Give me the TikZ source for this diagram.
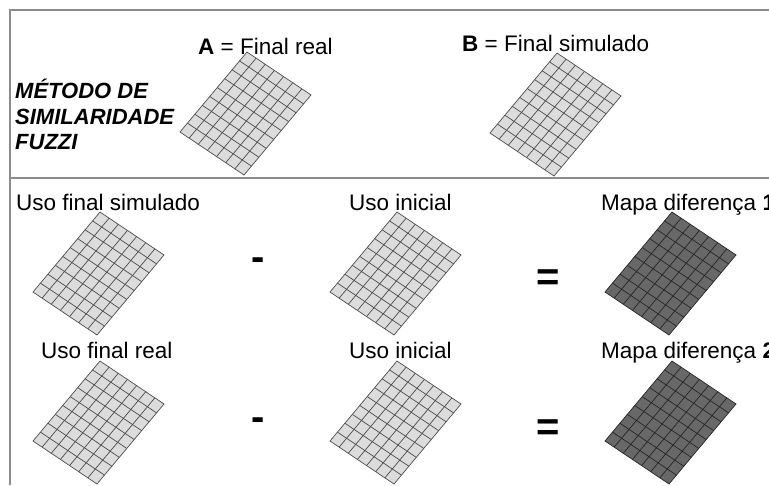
\documentclass[tikz,border=0pt]{standalone}
\usepackage{fontspec}
\setmainfont{Liberation Sans}
\usetikzlibrary{positioning}

\definecolor{cinzaclaro}{HTML}{DCDCDC}
\definecolor{cinzaescuro}{HTML}{686868}
\definecolor{borda}{HTML}{8C8C8C}

\tikzstyle{rotulo} = [anchor=base west, inner sep=0pt, font=\fontsize{22.5}{26}\selectfont]
\tikzstyle{titulo} = [anchor=north west, inner sep=0pt, align=left, font=\fontsize{22}{25.5}\selectfont\bfseries\itshape]
\tikzstyle{sinal} = [anchor=base, inner sep=0pt, font=\fontsize{40}{40}\selectfont\bfseries]
\tikzstyle{divisa} = [draw=borda, line width=1.2pt]

% mapa em grade 7x9, canto de cima em (#1,#2)
\newcommand{\grade}[4]{%
  \begin{scope}[shift={(#1,#2)}, line width=0.7pt]
    \filldraw[fill=#3, draw=#4] (0,0) -- (64,43) -- (-3,123) -- (-67,80) -- cycle;
    \foreach \i in {1,...,6} \draw[#4] (64*\i/7,43*\i/7) -- ++(-67,80);
    \foreach \j in {1,...,8} \draw[#4] (-67*\j/9,80*\j/9) -- ++(64,43);
  \end{scope}}

\begin{document}
\begin{tikzpicture}[x=1pt, y=-1pt]
\useasboundingbox (0,0) rectangle (769,485);

%% DIVISAS

\draw [divisa] (769,10) -- (10,10) -- (10,485);
\draw [divisa] (10,178) -- (769,178);

%% TOPO

\node (metodo) [titulo] at (15,79) {MÉTODO DE\\SIMILARIDADE\\FUZZI};
\node (rotA) [rotulo] at (198,54) {\textbf{A} = Final real};
\node (rotB) [rotulo] at (462,51) {\textbf{B} = Final simulado};
\grade{247}{52}{cinzaclaro}{black!70}
\grade{557}{53}{cinzaclaro}{black!70}

%% LINHA 1

\node (sim) [rotulo] at (16,210) {Uso final simulado};
\node (ini1) [rotulo] at (349,210) {Uso inicial};
\node (dif1) [rotulo] at (601,210) {Mapa diferença \textbf{1}};
\grade{100}{212}{cinzaclaro}{black!70}
\grade{397}{212}{cinzaclaro}{black!70}
\grade{672}{212}{cinzaescuro}{black!85}
\node (menos1) [sinal] at (258,270.5) {-};
\node (igual1) [sinal] at (548,290) {=};

%% LINHA 2

\node (real) [rotulo] at (41,358) {Uso final real};
\node (ini2) [rotulo] at (349,358) {Uso inicial};
\node (dif2) [rotulo] at (601,358) {Mapa diferença \textbf{2}};
\grade{100}{361}{cinzaclaro}{black!70}
\grade{397}{361}{cinzaclaro}{black!70}
\grade{672}{361}{cinzaescuro}{black!85}
\node (menos2) [sinal] at (258,430.5) {-};
\node (igual2) [sinal] at (548,440) {=};

\end{tikzpicture}
\end{document}
